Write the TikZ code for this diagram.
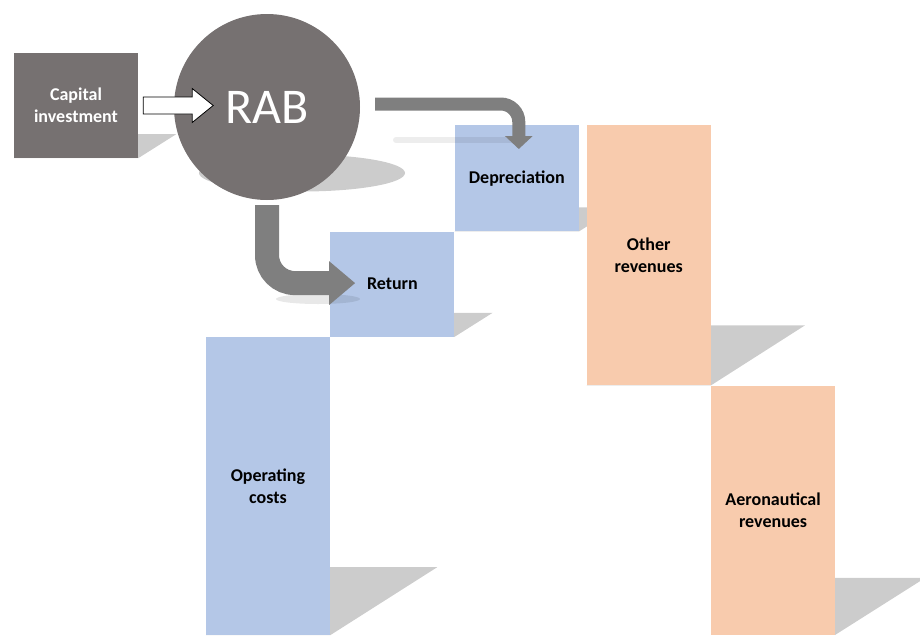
\documentclass[tikz,border=0pt]{standalone}
\usepackage{fontspec}
\setmainfont{Carlito}
\usepackage{tikz}
\usetikzlibrary{arrows.meta,calc}
\usepackage{xcolor}
\definecolor{rabgray}{RGB}{118,113,113}
\definecolor{costblue}{RGB}{180,199,231}
\definecolor{revpeach}{RGB}{248,203,173}
\definecolor{flowgray}{RGB}{127,127,127}
\definecolor{shadowgray}{RGB}{204,204,204}
\pgfdeclarelayer{background}
\pgfsetlayers{background,main}

% cast shadow behind a block: node, shift right, shift up
\newcommand{\blockshadow}[3]{%
  \fill[shadowgray] (#1.south west) -- (#1.south east) -- ++(#2,-#3)
    -- ($(#1.south west)+(#2,-#3)$) -- cycle;}

\tikzset{
  block/.style={rectangle, inner sep=0pt, align=center,
    font=\fontsize{18}{22}\selectfont\bfseries},
  costblock/.style={block, fill=costblue, minimum width=124pt},
  revblock/.style={block, fill=revpeach, minimum width=124pt},
  flow/.style={flowgray},
}

\begin{document}
\begin{tikzpicture}[x=1pt,y=-1pt]
    \useasboundingbox (0,0) rectangle (920,635);

    % Capital investment and RAB
    \node[block, fill=rabgray, text=white, minimum width=124pt, minimum height=105pt]
      (capital) at (76,105.5) {Capital\\investment};
    \node[circle, fill=rabgray, text=white, inner sep=0pt, minimum size=186pt,
      font=\fontsize{50}{60}\selectfont] (rab) at (267,107) {RAB};

    % Cost side
    \node[costblock, minimum height=298pt] (opex) at (268,486) {Operating\\costs};
    \node[costblock, minimum height=105pt, anchor=south west] (return) at (opex.north east) {Return};
    \node[costblock, minimum height=106pt, anchor=south west] (deprec) at (return.north east) {Depreciation};

    % Revenue side
    \node[revblock, minimum height=260pt, anchor=north west] (otherrev) at ($(deprec.north east)+(7.5,0)$) {Other\\revenues};
    \node[revblock, minimum height=249pt, anchor=north west] (aerorev) at (otherrev.south east) {Aeronautical\\revenues};

    % Shadows
    \begin{pgfonlayer}{background}
      \blockshadow{capital}{38}{24}
      \blockshadow{deprec}{38}{24}
      \blockshadow{return}{38}{24}
      \blockshadow{opex}{107}{68}
      \blockshadow{otherrev}{94}{60}
      \blockshadow{aerorev}{90}{57}
      \fill[shadowgray] (302,173) ellipse [x radius=103, y radius=18.5];
    \end{pgfonlayer}
    \draw[black,opacity=0.07,line width=6pt,line cap=round] (396,140) -- (512,140);
    \fill[black,opacity=0.09] (318,299) ellipse [x radius=42, y radius=5];

    % Capital investment into RAB
    \draw[fill=white, line width=0.8pt] ($(capital.east)+(5,-8.5)$) -- ++(49,0) -- ++(0,-8.5)
      -- ++(21,17) -- ++(-21,17) -- ++(0,-8.5) -- ++(-49,0) -- cycle;

    % RAB into depreciation and return
    \draw[flow, line width=13pt, rounded corners=18pt, -{Triangle[length=13pt,width=27pt]}]
      ($(rab.east)+(15,-3)$) -| ($(deprec.north)+(2,24)$);
    \draw[flow, line width=24pt, rounded corners=28pt, -{Triangle[length=26pt,width=42pt]}]
      ($(rab.south)+(0,5)$) |- ($(return.west)+(25,-1)$);
\end{tikzpicture}
\end{document}
